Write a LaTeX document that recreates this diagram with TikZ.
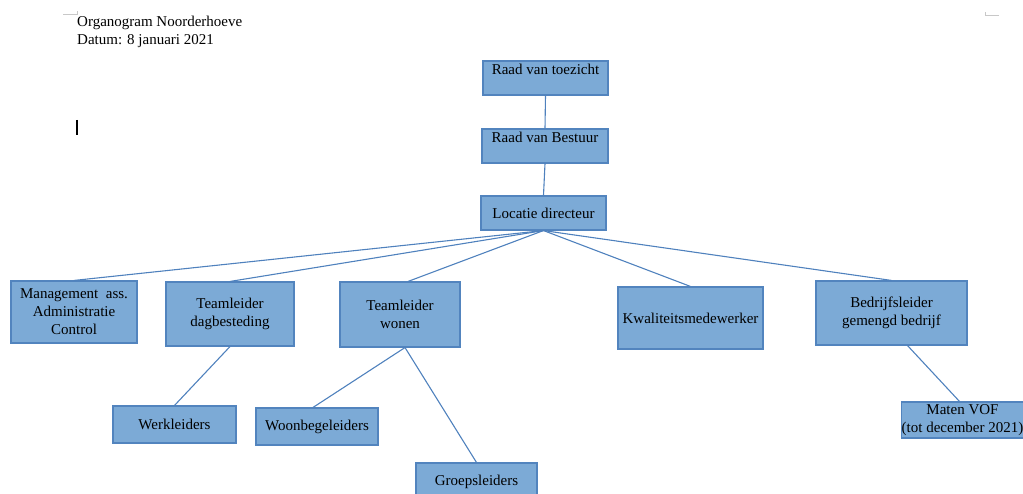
\documentclass[tikz,border=0pt]{standalone}
\usepackage{fontspec}
\setmainfont{Liberation Serif}
\usetikzlibrary{calc}
\definecolor{boxfill}{RGB}{124,170,214}
\definecolor{boxline}{RGB}{82,132,190}
\definecolor{conn}{RGB}{79,129,189}
\definecolor{cornergray}{RGB}{200,200,200}
\tikzset{
  orgbox/.style={draw=boxline, line width=1.1pt, fill=boxfill, inner sep=0pt, align=center,
    font=\fontsize{15}{18}\selectfont, text=black},
  topbox/.style={orgbox, text height=13pt, text depth=19pt, inner ysep=1pt},
  link/.style={draw=conn, line width=1.1pt},
  cornermark/.style={draw=cornergray, line width=0.8pt},
}
\begin{document}
\begin{tikzpicture}[x=1pt,y=-1pt]
\useasboundingbox (0,0) rectangle (1023,494);
% header
\node[anchor=base west, align=left, inner sep=0pt, font=\fontsize{15}{18}\selectfont] (hdr) at (77,45) {Organogram Noorderhoeve\\Datum: 8 januari 2021};
\draw[cornermark] (63,14) -- (77,14) -- (77,11);
\draw[cornermark] (999,15) -- (985,15) -- (985,12);
\draw[black, line width=1.8pt] (77,120) -- (77,135);
% boxes
\node[topbox, minimum width=125pt, minimum height=34pt] (rvt) at (545.5,78) {Raad van toezicht};
\node[topbox, minimum width=126pt, minimum height=34pt] (rvb) at (545,146) {Raad van Bestuur};
\node[orgbox, minimum width=125pt, minimum height=34pt] (ld) at (543.5,213) {Locatie directeur};
\node[orgbox, minimum width=126pt, minimum height=62pt] (ma) at (74,312) {Management\ \ ass.\\Administratie\\Control};
\node[orgbox, minimum width=128pt, minimum height=64pt] (tdb) at (230,314) {Teamleider\\dagbesteding};
\node[orgbox, minimum width=120pt, minimum height=65pt] (tw) at (400,314.5) {Teamleider\\wonen};
\node[orgbox, minimum width=145pt, minimum height=62pt] (kw) at (690.5,318) {Kwaliteitsmedewerker};
\node[orgbox, minimum width=151pt, minimum height=64pt] (bl) at (891.5,313) {Bedrijfsleider\\gemengd bedrijf};
\node[orgbox, minimum width=123pt, minimum height=37pt] (wl) at (174.5,424.5) {Werkleiders};
\node[orgbox, minimum width=122pt, minimum height=37pt] (wb) at (317,426.5) {Woonbegeleiders};
\node[orgbox, minimum width=121pt, minimum height=37pt] (gl) at (476.5,481.5) {Groepsleiders};
\node[orgbox, minimum width=119pt, minimum height=36pt] (mv) at (962.5,420) {Maten VOF\\(tot december 2021)};
% connectors
\draw[link] (rvt.south) -- (rvb.north);
\draw[link] (rvb.south) -- (ld.north);
\draw[link] (ld.south) -- (ma.north);
\draw[link] (ld.south) -- (tdb.north);
\draw[link] (ld.south) -- ($(tw.north)+(8,0)$);
\draw[link] (ld.south) -- (kw.north);
\draw[link] (ld.south) -- (bl.north);
\draw[link] (tdb.south) -- (wl.north);
\draw[link] ($(tw.south)+(5,0)$) -- ($(wb.north)+(-4,0)$);
\draw[link] ($(tw.south)+(5,0)$) -- (gl.north);
\draw[link] ($(bl.south)+(16,0)$) -- ($(mv.north)+(-3,0)$);
\end{tikzpicture}
\end{document}
